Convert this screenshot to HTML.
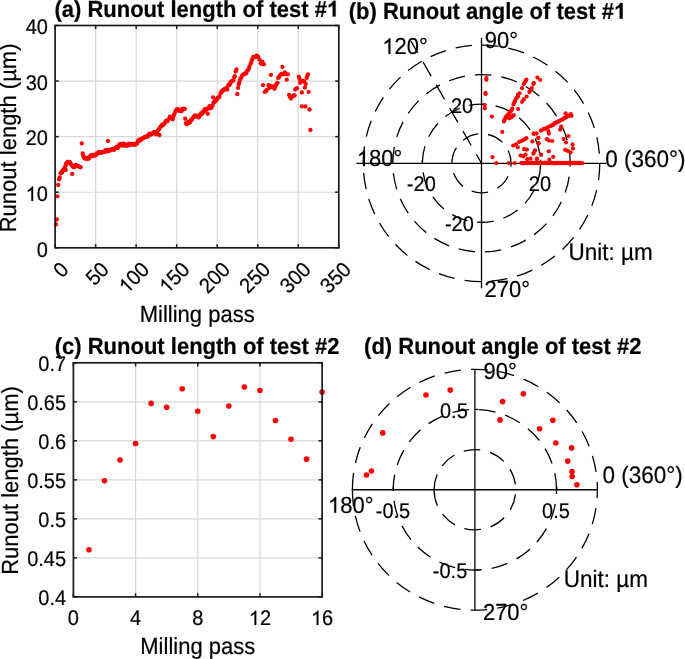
<!DOCTYPE html>
<html><head><meta charset="utf-8"><style>
html,body{margin:0;padding:0;background:#fff;}
svg{display:block;will-change:transform;}
text{font-family:"Liberation Sans", sans-serif; stroke:#000; stroke-width:0.2px; paint-order:stroke; text-rendering:geometricPrecision;}
</style></head><body>
<svg width="685" height="659" viewBox="0 0 685 659">
<rect width="685" height="659" fill="#fff"/>
<line x1="95.63" y1="25.5" x2="95.63" y2="247.8" stroke="#d8d8d8" stroke-width="1.2" />
<line x1="136.16" y1="25.5" x2="136.16" y2="247.8" stroke="#d8d8d8" stroke-width="1.2" />
<line x1="176.69" y1="25.5" x2="176.69" y2="247.8" stroke="#d8d8d8" stroke-width="1.2" />
<line x1="217.21" y1="25.5" x2="217.21" y2="247.8" stroke="#d8d8d8" stroke-width="1.2" />
<line x1="257.74" y1="25.5" x2="257.74" y2="247.8" stroke="#d8d8d8" stroke-width="1.2" />
<line x1="298.27" y1="25.5" x2="298.27" y2="247.8" stroke="#d8d8d8" stroke-width="1.2" />
<line x1="55.1" y1="192.23" x2="338.8" y2="192.23" stroke="#d8d8d8" stroke-width="1.2" />
<line x1="55.1" y1="136.65" x2="338.8" y2="136.65" stroke="#d8d8d8" stroke-width="1.2" />
<line x1="55.1" y1="81.08" x2="338.8" y2="81.08" stroke="#d8d8d8" stroke-width="1.2" />
<g fill="#ff0000"><circle cx="57.43" cy="196.28" r="2.15"/><circle cx="58.16" cy="184.99" r="2.15"/><circle cx="59.11" cy="179.44" r="2.15"/><circle cx="59.72" cy="177.51" r="2.15"/><circle cx="60.71" cy="173.32" r="2.15"/><circle cx="61.38" cy="172.26" r="2.15"/><circle cx="62.17" cy="172.49" r="2.15"/><circle cx="62.75" cy="170.42" r="2.15"/><circle cx="63.65" cy="169.94" r="2.15"/><circle cx="64.33" cy="168.23" r="2.15"/><circle cx="65.19" cy="166.76" r="2.15"/><circle cx="65.79" cy="165.35" r="2.15"/><circle cx="66.16" cy="163.44" r="2.15"/><circle cx="66.92" cy="163.23" r="2.15"/><circle cx="67.57" cy="161.9" r="2.15"/><circle cx="68.76" cy="162" r="2.15"/><circle cx="69.72" cy="161.98" r="2.15"/><circle cx="70.22" cy="163.2" r="2.15"/><circle cx="71.17" cy="164.51" r="2.15"/><circle cx="71.73" cy="165.35" r="2.15"/><circle cx="72.48" cy="165.66" r="2.15"/><circle cx="73.27" cy="166.79" r="2.15"/><circle cx="73.7" cy="167.29" r="2.15"/><circle cx="74.51" cy="167.02" r="2.15"/><circle cx="75.29" cy="165.68" r="2.15"/><circle cx="76.09" cy="164.84" r="2.15"/><circle cx="76.87" cy="165.91" r="2.15"/><circle cx="77.76" cy="165.89" r="2.15"/><circle cx="78.65" cy="166.57" r="2.15"/><circle cx="79.87" cy="166.92" r="2.15"/><circle cx="80.7" cy="167.3" r="2.15"/><circle cx="82.75" cy="153.49" r="2.15"/><circle cx="83.33" cy="155.86" r="2.15"/><circle cx="83.93" cy="157.3" r="2.15"/><circle cx="84.77" cy="158.51" r="2.15"/><circle cx="85.36" cy="158.03" r="2.15"/><circle cx="85.92" cy="158.24" r="2.15"/><circle cx="87.06" cy="159.05" r="2.15"/><circle cx="88.03" cy="157.66" r="2.15"/><circle cx="88.75" cy="158.67" r="2.15"/><circle cx="89.48" cy="157.35" r="2.15"/><circle cx="90.4" cy="155.72" r="2.15"/><circle cx="91.22" cy="156.29" r="2.15"/><circle cx="92.13" cy="154.92" r="2.15"/><circle cx="93.11" cy="156.07" r="2.15"/><circle cx="93.86" cy="154.91" r="2.15"/><circle cx="94.92" cy="155.64" r="2.15"/><circle cx="95.89" cy="155" r="2.15"/><circle cx="96.54" cy="153.41" r="2.15"/><circle cx="97.44" cy="153.85" r="2.15"/><circle cx="98.56" cy="152.23" r="2.15"/><circle cx="99.12" cy="152.41" r="2.15"/><circle cx="100.02" cy="152.97" r="2.15"/><circle cx="101.04" cy="152.48" r="2.15"/><circle cx="101.68" cy="152.4" r="2.15"/><circle cx="102.7" cy="152.3" r="2.15"/><circle cx="103.81" cy="152.14" r="2.15"/><circle cx="104.51" cy="151.56" r="2.15"/><circle cx="105.45" cy="150.09" r="2.15"/><circle cx="106.41" cy="151.47" r="2.15"/><circle cx="107.27" cy="151.28" r="2.15"/><circle cx="107.96" cy="150.18" r="2.15"/><circle cx="108.74" cy="151.15" r="2.15"/><circle cx="109.62" cy="150.35" r="2.15"/><circle cx="110.56" cy="150.11" r="2.15"/><circle cx="111.49" cy="149.42" r="2.15"/><circle cx="112.23" cy="149.18" r="2.15"/><circle cx="113.14" cy="149.2" r="2.15"/><circle cx="113.99" cy="149.9" r="2.15"/><circle cx="115.1" cy="147.88" r="2.15"/><circle cx="115.83" cy="147.89" r="2.15"/><circle cx="116.75" cy="146.97" r="2.15"/><circle cx="117.81" cy="148.11" r="2.15"/><circle cx="118.54" cy="146.21" r="2.15"/><circle cx="119.26" cy="144.6" r="2.15"/><circle cx="120.24" cy="144.18" r="2.15"/><circle cx="121.31" cy="143.96" r="2.15"/><circle cx="121.86" cy="145.69" r="2.15"/><circle cx="122.94" cy="143.92" r="2.15"/><circle cx="123.82" cy="143.66" r="2.15"/><circle cx="124.69" cy="145.85" r="2.15"/><circle cx="125.7" cy="145.33" r="2.15"/><circle cx="126.33" cy="144.71" r="2.15"/><circle cx="127.17" cy="145.7" r="2.15"/><circle cx="128.19" cy="145.29" r="2.15"/><circle cx="128.98" cy="143.64" r="2.15"/><circle cx="130.05" cy="144.89" r="2.15"/><circle cx="130.94" cy="144.07" r="2.15"/><circle cx="131.8" cy="144.4" r="2.15"/><circle cx="132.44" cy="144.39" r="2.15"/><circle cx="133.37" cy="143.79" r="2.15"/><circle cx="134.11" cy="144.81" r="2.15"/><circle cx="135.08" cy="144.8" r="2.15"/><circle cx="136.23" cy="143.33" r="2.15"/><circle cx="137.1" cy="143.6" r="2.15"/><circle cx="137.98" cy="141.3" r="2.15"/><circle cx="138.49" cy="140.35" r="2.15"/><circle cx="139.28" cy="139.65" r="2.15"/><circle cx="140.33" cy="140.56" r="2.15"/><circle cx="141.3" cy="139.01" r="2.15"/><circle cx="142.1" cy="139.1" r="2.15"/><circle cx="142.75" cy="138.17" r="2.15"/><circle cx="143.96" cy="137.82" r="2.15"/><circle cx="144.76" cy="136.81" r="2.15"/><circle cx="145.39" cy="137.16" r="2.15"/><circle cx="146.31" cy="136.84" r="2.15"/><circle cx="147.43" cy="135.61" r="2.15"/><circle cx="148.06" cy="136.48" r="2.15"/><circle cx="149.07" cy="134.23" r="2.15"/><circle cx="149.71" cy="133.65" r="2.15"/><circle cx="150.9" cy="134.55" r="2.15"/><circle cx="151.48" cy="134.06" r="2.15"/><circle cx="152.69" cy="133.15" r="2.15"/><circle cx="153.32" cy="133.03" r="2.15"/><circle cx="154.1" cy="131.98" r="2.15"/><circle cx="155.31" cy="133.5" r="2.15"/><circle cx="156.01" cy="134.25" r="2.15"/><circle cx="156.84" cy="133.08" r="2.15"/><circle cx="157.86" cy="130.6" r="2.15"/><circle cx="158.5" cy="129.74" r="2.15"/><circle cx="159.4" cy="128.79" r="2.15"/><circle cx="160.3" cy="126.82" r="2.15"/><circle cx="161.15" cy="126.3" r="2.15"/><circle cx="162.12" cy="124.66" r="2.15"/><circle cx="163.08" cy="124.99" r="2.15"/><circle cx="163.89" cy="124.37" r="2.15"/><circle cx="164.8" cy="122.87" r="2.15"/><circle cx="165.68" cy="121.07" r="2.15"/><circle cx="166.53" cy="120.75" r="2.15"/><circle cx="167.23" cy="121.43" r="2.15"/><circle cx="168.17" cy="120.04" r="2.15"/><circle cx="169.24" cy="118.47" r="2.15"/><circle cx="169.93" cy="116.64" r="2.15"/><circle cx="170.92" cy="117.79" r="2.15"/><circle cx="171.64" cy="117.87" r="2.15"/><circle cx="172.6" cy="117.81" r="2.15"/><circle cx="173.66" cy="115.72" r="2.15"/><circle cx="174.42" cy="113.67" r="2.15"/><circle cx="175.43" cy="111.54" r="2.15"/><circle cx="176.18" cy="110.25" r="2.15"/><circle cx="177" cy="109.22" r="2.15"/><circle cx="177.86" cy="109.3" r="2.15"/><circle cx="178.74" cy="110.62" r="2.15"/><circle cx="179.7" cy="110.9" r="2.15"/><circle cx="180.68" cy="109.97" r="2.15"/><circle cx="181.4" cy="111.14" r="2.15"/><circle cx="182.4" cy="109.02" r="2.15"/><circle cx="182.99" cy="109.35" r="2.15"/><circle cx="183.85" cy="108.57" r="2.15"/><circle cx="184.9" cy="108.8" r="2.15"/><circle cx="185.23" cy="118.74" r="2.15"/><circle cx="186.71" cy="124.29" r="2.15"/><circle cx="187.36" cy="123.4" r="2.15"/><circle cx="188.46" cy="121.72" r="2.15"/><circle cx="189.45" cy="122.84" r="2.15"/><circle cx="189.99" cy="121.96" r="2.15"/><circle cx="190.86" cy="120.17" r="2.15"/><circle cx="191.9" cy="120.08" r="2.15"/><circle cx="192.36" cy="118.5" r="2.15"/><circle cx="193.31" cy="117.54" r="2.15"/><circle cx="193.98" cy="116.72" r="2.15"/><circle cx="194.99" cy="115.34" r="2.15"/><circle cx="195.7" cy="116.18" r="2.15"/><circle cx="196.27" cy="115.96" r="2.15"/><circle cx="197.29" cy="116.32" r="2.15"/><circle cx="197.85" cy="117.27" r="2.15"/><circle cx="198.92" cy="117.24" r="2.15"/><circle cx="199.39" cy="115.08" r="2.15"/><circle cx="200.12" cy="115.36" r="2.15"/><circle cx="200.96" cy="113.31" r="2.15"/><circle cx="201.77" cy="114.12" r="2.15"/><circle cx="202.65" cy="112.07" r="2.15"/><circle cx="203.11" cy="112.64" r="2.15"/><circle cx="204" cy="111.45" r="2.15"/><circle cx="204.54" cy="109.42" r="2.15"/><circle cx="205.61" cy="109.5" r="2.15"/><circle cx="206.2" cy="109.88" r="2.15"/><circle cx="207.25" cy="108.95" r="2.15"/><circle cx="207.87" cy="108.41" r="2.15"/><circle cx="208.69" cy="107.78" r="2.15"/><circle cx="209.68" cy="106.08" r="2.15"/><circle cx="210.67" cy="108.25" r="2.15"/><circle cx="211.51" cy="107.66" r="2.15"/><circle cx="212.61" cy="105.38" r="2.15"/><circle cx="213.44" cy="102.72" r="2.15"/><circle cx="214.17" cy="102.08" r="2.15"/><circle cx="215.02" cy="101.56" r="2.15"/><circle cx="215.95" cy="100.8" r="2.15"/><circle cx="216.6" cy="99.86" r="2.15"/><circle cx="217.26" cy="98.54" r="2.15"/><circle cx="217.95" cy="97.53" r="2.15"/><circle cx="218.87" cy="97.6" r="2.15"/><circle cx="219.38" cy="96.45" r="2.15"/><circle cx="220.67" cy="93.26" r="2.15"/><circle cx="221.63" cy="91.46" r="2.15"/><circle cx="222.25" cy="91.52" r="2.15"/><circle cx="222.96" cy="90.11" r="2.15"/><circle cx="223.83" cy="90.31" r="2.15"/><circle cx="224.44" cy="89.26" r="2.15"/><circle cx="225.31" cy="88.97" r="2.15"/><circle cx="225.91" cy="88.5" r="2.15"/><circle cx="226.5" cy="88.16" r="2.15"/><circle cx="227.23" cy="89.48" r="2.15"/><circle cx="228.3" cy="85.03" r="2.15"/><circle cx="228.98" cy="85.38" r="2.15"/><circle cx="230.05" cy="84.04" r="2.15"/><circle cx="230.56" cy="82.18" r="2.15"/><circle cx="231.32" cy="81.62" r="2.15"/><circle cx="232.26" cy="80.59" r="2.15"/><circle cx="233.31" cy="80.62" r="2.15"/><circle cx="234.29" cy="77.59" r="2.15"/><circle cx="234.7" cy="76.23" r="2.15"/><circle cx="235.72" cy="71.51" r="2.15"/><circle cx="236.5" cy="69.4" r="2.15"/><circle cx="238.1" cy="87.93" r="2.15"/><circle cx="238.79" cy="84.2" r="2.15"/><circle cx="239.43" cy="81.96" r="2.15"/><circle cx="240.1" cy="79.37" r="2.15"/><circle cx="241.09" cy="77.86" r="2.15"/><circle cx="242.02" cy="75.63" r="2.15"/><circle cx="243.12" cy="74.68" r="2.15"/><circle cx="244.23" cy="73.84" r="2.15"/><circle cx="245.25" cy="73.52" r="2.15"/><circle cx="246.19" cy="73.33" r="2.15"/><circle cx="246.89" cy="71.32" r="2.15"/><circle cx="247.96" cy="69.84" r="2.15"/><circle cx="248.69" cy="69.3" r="2.15"/><circle cx="249.32" cy="66.87" r="2.15"/><circle cx="250.56" cy="63.88" r="2.15"/><circle cx="251.39" cy="61.99" r="2.15"/><circle cx="252.06" cy="59.43" r="2.15"/><circle cx="253.4" cy="56.87" r="2.15"/><circle cx="254.34" cy="56.86" r="2.15"/><circle cx="255.07" cy="56.95" r="2.15"/><circle cx="255.92" cy="56.67" r="2.15"/><circle cx="256.56" cy="55.74" r="2.15"/><circle cx="257.34" cy="56.2" r="2.15"/><circle cx="258.14" cy="56.87" r="2.15"/><circle cx="259.52" cy="59.58" r="2.15"/><circle cx="260.75" cy="63.35" r="2.15"/><circle cx="261.6" cy="61.8" r="2.15"/><circle cx="262.5" cy="61.9" r="2.15"/><circle cx="263" cy="85.2" r="2.15"/><circle cx="264.9" cy="91.9" r="2.15"/><circle cx="266.7" cy="90.1" r="2.15"/><circle cx="268.5" cy="85.2" r="2.15"/><circle cx="270.3" cy="85.8" r="2.15"/><circle cx="270.9" cy="74.9" r="2.15"/><circle cx="272.1" cy="87" r="2.15"/><circle cx="274.6" cy="88.8" r="2.15"/><circle cx="275.8" cy="85.8" r="2.15"/><circle cx="277.6" cy="82.8" r="2.15"/><circle cx="278.2" cy="77.9" r="2.15"/><circle cx="280" cy="75.5" r="2.15"/><circle cx="282.5" cy="67" r="2.15"/><circle cx="283.1" cy="74.3" r="2.15"/><circle cx="284.9" cy="72.5" r="2.15"/><circle cx="286.7" cy="79.7" r="2.15"/><circle cx="287.9" cy="74.3" r="2.15"/><circle cx="289.1" cy="94.9" r="2.15"/><circle cx="291" cy="98.6" r="2.15"/><circle cx="292.8" cy="96.1" r="2.15"/><circle cx="294.6" cy="95.5" r="2.15"/><circle cx="295.2" cy="89.5" r="2.15"/><circle cx="297" cy="88.2" r="2.15"/><circle cx="298.8" cy="76.7" r="2.15"/><circle cx="300.1" cy="82.8" r="2.15"/><circle cx="301.9" cy="92.5" r="2.15"/><circle cx="302.5" cy="81" r="2.15"/><circle cx="304.3" cy="81.6" r="2.15"/><circle cx="304.9" cy="87.6" r="2.15"/><circle cx="306.7" cy="77.9" r="2.15"/><circle cx="308" cy="74.3" r="2.15"/><circle cx="308.6" cy="91.9" r="2.15"/><circle cx="301.9" cy="106.4" r="2.15"/><circle cx="305.5" cy="106.4" r="2.15"/><circle cx="309.5" cy="109.5" r="2.15"/><circle cx="310.4" cy="130" r="2.15"/><circle cx="264" cy="64.3" r="2.15"/><circle cx="261.8" cy="64" r="2.15"/><circle cx="266" cy="91" r="2.15"/><circle cx="269" cy="88" r="2.15"/><circle cx="273" cy="86.5" r="2.15"/><circle cx="276.5" cy="84" r="2.15"/><circle cx="279" cy="77" r="2.15"/><circle cx="281.5" cy="74" r="2.15"/><circle cx="285.5" cy="74" r="2.15"/><circle cx="290" cy="97" r="2.15"/><circle cx="293.5" cy="95.5" r="2.15"/><circle cx="296" cy="88.8" r="2.15"/><circle cx="299.5" cy="79" r="2.15"/><circle cx="303.5" cy="81.3" r="2.15"/><circle cx="305.7" cy="84" r="2.15"/><circle cx="307.3" cy="76" r="2.15"/><circle cx="56.8" cy="219.5" r="2.15"/><circle cx="56.1" cy="224.4" r="2.15"/><circle cx="72.2" cy="173.9" r="2.15"/><circle cx="81.8" cy="143.4" r="2.15"/><circle cx="65.7" cy="170" r="2.15"/><circle cx="107.9" cy="141" r="2.15"/><circle cx="172.7" cy="119.3" r="2.15"/><circle cx="159.5" cy="135" r="2.15"/><circle cx="213.1" cy="97.5" r="2.15"/><circle cx="207.7" cy="113.8" r="2.15"/><circle cx="237.3" cy="94" r="2.15"/><circle cx="186" cy="123.2" r="2.15"/></g>
<rect x="55.1" y="25.5" width="283.7" height="222.3" fill="none" stroke="#1a1a1a" stroke-width="1.7"/>
<line x1="55.1" y1="247.8" x2="55.1" y2="244.2" stroke="#1a1a1a" stroke-width="1.5" />
<line x1="55.1" y1="25.5" x2="55.1" y2="29.1" stroke="#1a1a1a" stroke-width="1.5" />
<line x1="95.63" y1="247.8" x2="95.63" y2="244.2" stroke="#1a1a1a" stroke-width="1.5" />
<line x1="95.63" y1="25.5" x2="95.63" y2="29.1" stroke="#1a1a1a" stroke-width="1.5" />
<line x1="136.16" y1="247.8" x2="136.16" y2="244.2" stroke="#1a1a1a" stroke-width="1.5" />
<line x1="136.16" y1="25.5" x2="136.16" y2="29.1" stroke="#1a1a1a" stroke-width="1.5" />
<line x1="176.69" y1="247.8" x2="176.69" y2="244.2" stroke="#1a1a1a" stroke-width="1.5" />
<line x1="176.69" y1="25.5" x2="176.69" y2="29.1" stroke="#1a1a1a" stroke-width="1.5" />
<line x1="217.21" y1="247.8" x2="217.21" y2="244.2" stroke="#1a1a1a" stroke-width="1.5" />
<line x1="217.21" y1="25.5" x2="217.21" y2="29.1" stroke="#1a1a1a" stroke-width="1.5" />
<line x1="257.74" y1="247.8" x2="257.74" y2="244.2" stroke="#1a1a1a" stroke-width="1.5" />
<line x1="257.74" y1="25.5" x2="257.74" y2="29.1" stroke="#1a1a1a" stroke-width="1.5" />
<line x1="298.27" y1="247.8" x2="298.27" y2="244.2" stroke="#1a1a1a" stroke-width="1.5" />
<line x1="298.27" y1="25.5" x2="298.27" y2="29.1" stroke="#1a1a1a" stroke-width="1.5" />
<line x1="338.8" y1="247.8" x2="338.8" y2="244.2" stroke="#1a1a1a" stroke-width="1.5" />
<line x1="338.8" y1="25.5" x2="338.8" y2="29.1" stroke="#1a1a1a" stroke-width="1.5" />
<line x1="55.1" y1="247.8" x2="58.7" y2="247.8" stroke="#1a1a1a" stroke-width="1.5" />
<line x1="338.8" y1="247.8" x2="335.2" y2="247.8" stroke="#1a1a1a" stroke-width="1.5" />
<line x1="55.1" y1="192.23" x2="58.7" y2="192.23" stroke="#1a1a1a" stroke-width="1.5" />
<line x1="338.8" y1="192.23" x2="335.2" y2="192.23" stroke="#1a1a1a" stroke-width="1.5" />
<line x1="55.1" y1="136.65" x2="58.7" y2="136.65" stroke="#1a1a1a" stroke-width="1.5" />
<line x1="338.8" y1="136.65" x2="335.2" y2="136.65" stroke="#1a1a1a" stroke-width="1.5" />
<line x1="55.1" y1="81.08" x2="58.7" y2="81.08" stroke="#1a1a1a" stroke-width="1.5" />
<line x1="338.8" y1="81.08" x2="335.2" y2="81.08" stroke="#1a1a1a" stroke-width="1.5" />
<line x1="55.1" y1="25.5" x2="58.7" y2="25.5" stroke="#1a1a1a" stroke-width="1.5" />
<line x1="338.8" y1="25.5" x2="335.2" y2="25.5" stroke="#1a1a1a" stroke-width="1.5" />
<g font-family='"Liberation Sans", sans-serif' fill="#000">
<g class="T"><g transform="translate(47.9,256.5) scale(1,1.06) translate(-47.9,-256.5)"><text x="47.9" y="256.5" font-size="20" text-anchor="end" font-weight="normal" >0</text></g></g>
<g class="T"><g transform="translate(47.9,200.93) scale(1,1.06) translate(-47.9,-200.93)"><text x="47.9" y="200.93" font-size="20" text-anchor="end" font-weight="normal" > 0</text><path d="M763,0L583,0L583,1147Q518,1085 412,1023Q307,961 223,930L223,1104Q374,1175 484,1273Q595,1372 648,1466L763,1466Z" transform="translate(25.65,200.93) scale(0.009766,-0.009213)" fill="#000" stroke="#000" stroke-width="20.5" class="g1"/></g></g>
<g class="T"><g transform="translate(47.9,145.35) scale(1,1.06) translate(-47.9,-145.35)"><text x="47.9" y="145.35" font-size="20" text-anchor="end" font-weight="normal" >20</text></g></g>
<g class="T"><g transform="translate(47.9,89.78) scale(1,1.06) translate(-47.9,-89.78)"><text x="47.9" y="89.78" font-size="20" text-anchor="end" font-weight="normal" >30</text></g></g>
<g class="T"><g transform="translate(47.9,34.2) scale(1,1.06) translate(-47.9,-34.2)"><text x="47.9" y="34.2" font-size="20" text-anchor="end" font-weight="normal" >40</text></g></g>
<g class="T" transform="translate(64.9,265.9) rotate(-45)"><g transform="translate(0,7) scale(1,1.06) translate(0,-7)"><text x="0" y="7" font-size="20" text-anchor="end" font-weight="normal" >0</text></g></g>
<g class="T" transform="translate(105.26,265.9) rotate(-45)"><g transform="translate(0,7) scale(1,1.06) translate(0,-7)"><text x="0" y="7" font-size="20" text-anchor="end" font-weight="normal" >50</text></g></g>
<g class="T" transform="translate(145.63,265.9) rotate(-45)"><g transform="translate(0,7) scale(1,1.06) translate(0,-7)"><text x="0" y="7" font-size="20" text-anchor="end" font-weight="normal" > 00</text><path d="M763,0L583,0L583,1147Q518,1085 412,1023Q307,961 223,930L223,1104Q374,1175 484,1273Q595,1372 648,1466L763,1466Z" transform="translate(-33.37,7) scale(0.009766,-0.009213)" fill="#000" stroke="#000" stroke-width="20.5" class="g1"/></g></g>
<g class="T" transform="translate(185.99,265.9) rotate(-45)"><g transform="translate(0,7) scale(1,1.06) translate(0,-7)"><text x="0" y="7" font-size="20" text-anchor="end" font-weight="normal" > 50</text><path d="M763,0L583,0L583,1147Q518,1085 412,1023Q307,961 223,930L223,1104Q374,1175 484,1273Q595,1372 648,1466L763,1466Z" transform="translate(-33.37,7) scale(0.009766,-0.009213)" fill="#000" stroke="#000" stroke-width="20.5" class="g1"/></g></g>
<g class="T" transform="translate(226.35,265.9) rotate(-45)"><g transform="translate(0,7) scale(1,1.06) translate(0,-7)"><text x="0" y="7" font-size="20" text-anchor="end" font-weight="normal" >200</text></g></g>
<g class="T" transform="translate(266.72,265.9) rotate(-45)"><g transform="translate(0,7) scale(1,1.06) translate(0,-7)"><text x="0" y="7" font-size="20" text-anchor="end" font-weight="normal" >250</text></g></g>
<g class="T" transform="translate(307.08,265.9) rotate(-45)"><g transform="translate(0,7) scale(1,1.06) translate(0,-7)"><text x="0" y="7" font-size="20" text-anchor="end" font-weight="normal" >300</text></g></g>
<g class="T" transform="translate(347.45,265.9) rotate(-45)"><g transform="translate(0,7) scale(1,1.06) translate(0,-7)"><text x="0" y="7" font-size="20" text-anchor="end" font-weight="normal" >350</text></g></g>
<g class="T"><g transform="translate(197.2,322.2) scale(1,1.06) translate(-197.2,-322.2)"><text x="197.2" y="322.2" font-size="22" text-anchor="middle" font-weight="normal" >Milling pass</text></g></g>
<g class="T" transform="translate(16.2,137.9) rotate(-90)"><g transform="translate(0,0) scale(1,1.06) translate(0,0)"><text x="0" y="0" font-size="22" text-anchor="middle" font-weight="normal" >Runout length (µm)</text></g></g>
<g class="T"><g transform="translate(196.8,16.5) scale(1,1.06) translate(-196.8,-16.5)"><text x="196.8" y="16.5" font-size="22" text-anchor="middle" font-weight="bold" >(a) Runout length of test # </text><path d="M809,0L528,0L528,1056Q374,912 165,844L165,1098Q275,1134 404,1234Q533,1334 581,1466L809,1466Z" transform="translate(326.95,16.5) scale(0.010742,-0.010134)" fill="#000" stroke="#000" stroke-width="18.6" class="g1"/></g></g>
</g>
<line x1="135.58" y1="362.8" x2="135.58" y2="596.9" stroke="#d8d8d8" stroke-width="1.2" />
<line x1="197.75" y1="362.8" x2="197.75" y2="596.9" stroke="#d8d8d8" stroke-width="1.2" />
<line x1="259.93" y1="362.8" x2="259.93" y2="596.9" stroke="#d8d8d8" stroke-width="1.2" />
<line x1="73.4" y1="557.88" x2="322.1" y2="557.88" stroke="#d8d8d8" stroke-width="1.2" />
<line x1="73.4" y1="518.87" x2="322.1" y2="518.87" stroke="#d8d8d8" stroke-width="1.2" />
<line x1="73.4" y1="479.85" x2="322.1" y2="479.85" stroke="#d8d8d8" stroke-width="1.2" />
<line x1="73.4" y1="440.83" x2="322.1" y2="440.83" stroke="#d8d8d8" stroke-width="1.2" />
<line x1="73.4" y1="401.82" x2="322.1" y2="401.82" stroke="#d8d8d8" stroke-width="1.2" />
<g fill="#ff0000"><circle cx="88.94" cy="549.69" r="2.8"/><circle cx="104.49" cy="480.86" r="2.8"/><circle cx="120.03" cy="459.95" r="2.8"/><circle cx="135.58" cy="443.56" r="2.8"/><circle cx="151.12" cy="403.38" r="2.8"/><circle cx="166.66" cy="407.28" r="2.8"/><circle cx="182.21" cy="388.71" r="2.8"/><circle cx="197.75" cy="411.18" r="2.8"/><circle cx="213.29" cy="436.62" r="2.8"/><circle cx="228.84" cy="406.11" r="2.8"/><circle cx="244.38" cy="386.99" r="2.8"/><circle cx="259.93" cy="390.5" r="2.8"/><circle cx="275.47" cy="420.54" r="2.8"/><circle cx="291.01" cy="439.27" r="2.8"/><circle cx="306.56" cy="459.17" r="2.8"/><circle cx="322.1" cy="392.06" r="2.8"/></g>
<rect x="73.4" y="362.8" width="248.7" height="234.1" fill="none" stroke="#1a1a1a" stroke-width="1.7"/>
<line x1="73.4" y1="596.9" x2="73.4" y2="593.3" stroke="#1a1a1a" stroke-width="1.5" />
<line x1="73.4" y1="362.8" x2="73.4" y2="366.4" stroke="#1a1a1a" stroke-width="1.5" />
<line x1="135.58" y1="596.9" x2="135.58" y2="593.3" stroke="#1a1a1a" stroke-width="1.5" />
<line x1="135.58" y1="362.8" x2="135.58" y2="366.4" stroke="#1a1a1a" stroke-width="1.5" />
<line x1="197.75" y1="596.9" x2="197.75" y2="593.3" stroke="#1a1a1a" stroke-width="1.5" />
<line x1="197.75" y1="362.8" x2="197.75" y2="366.4" stroke="#1a1a1a" stroke-width="1.5" />
<line x1="259.93" y1="596.9" x2="259.93" y2="593.3" stroke="#1a1a1a" stroke-width="1.5" />
<line x1="259.93" y1="362.8" x2="259.93" y2="366.4" stroke="#1a1a1a" stroke-width="1.5" />
<line x1="322.1" y1="596.9" x2="322.1" y2="593.3" stroke="#1a1a1a" stroke-width="1.5" />
<line x1="322.1" y1="362.8" x2="322.1" y2="366.4" stroke="#1a1a1a" stroke-width="1.5" />
<line x1="73.4" y1="596.9" x2="77" y2="596.9" stroke="#1a1a1a" stroke-width="1.5" />
<line x1="322.1" y1="596.9" x2="318.5" y2="596.9" stroke="#1a1a1a" stroke-width="1.5" />
<line x1="73.4" y1="557.88" x2="77" y2="557.88" stroke="#1a1a1a" stroke-width="1.5" />
<line x1="322.1" y1="557.88" x2="318.5" y2="557.88" stroke="#1a1a1a" stroke-width="1.5" />
<line x1="73.4" y1="518.87" x2="77" y2="518.87" stroke="#1a1a1a" stroke-width="1.5" />
<line x1="322.1" y1="518.87" x2="318.5" y2="518.87" stroke="#1a1a1a" stroke-width="1.5" />
<line x1="73.4" y1="479.85" x2="77" y2="479.85" stroke="#1a1a1a" stroke-width="1.5" />
<line x1="322.1" y1="479.85" x2="318.5" y2="479.85" stroke="#1a1a1a" stroke-width="1.5" />
<line x1="73.4" y1="440.83" x2="77" y2="440.83" stroke="#1a1a1a" stroke-width="1.5" />
<line x1="322.1" y1="440.83" x2="318.5" y2="440.83" stroke="#1a1a1a" stroke-width="1.5" />
<line x1="73.4" y1="401.82" x2="77" y2="401.82" stroke="#1a1a1a" stroke-width="1.5" />
<line x1="322.1" y1="401.82" x2="318.5" y2="401.82" stroke="#1a1a1a" stroke-width="1.5" />
<line x1="73.4" y1="362.8" x2="77" y2="362.8" stroke="#1a1a1a" stroke-width="1.5" />
<line x1="322.1" y1="362.8" x2="318.5" y2="362.8" stroke="#1a1a1a" stroke-width="1.5" />
<g font-family='"Liberation Sans", sans-serif' fill="#000">
<g class="T"><g transform="translate(66.1,605.2) scale(1,1.06) translate(-66.1,-605.2)"><text x="66.1" y="605.2" font-size="20" text-anchor="end" font-weight="normal" >0.4</text></g></g>
<g class="T"><g transform="translate(66.1,566.18) scale(1,1.06) translate(-66.1,-566.18)"><text x="66.1" y="566.18" font-size="20" text-anchor="end" font-weight="normal" >0.45</text></g></g>
<g class="T"><g transform="translate(66.1,527.17) scale(1,1.06) translate(-66.1,-527.17)"><text x="66.1" y="527.17" font-size="20" text-anchor="end" font-weight="normal" >0.5</text></g></g>
<g class="T"><g transform="translate(66.1,488.15) scale(1,1.06) translate(-66.1,-488.15)"><text x="66.1" y="488.15" font-size="20" text-anchor="end" font-weight="normal" >0.55</text></g></g>
<g class="T"><g transform="translate(66.1,449.13) scale(1,1.06) translate(-66.1,-449.13)"><text x="66.1" y="449.13" font-size="20" text-anchor="end" font-weight="normal" >0.6</text></g></g>
<g class="T"><g transform="translate(66.1,410.12) scale(1,1.06) translate(-66.1,-410.12)"><text x="66.1" y="410.12" font-size="20" text-anchor="end" font-weight="normal" >0.65</text></g></g>
<g class="T"><g transform="translate(66.1,371.1) scale(1,1.06) translate(-66.1,-371.1)"><text x="66.1" y="371.1" font-size="20" text-anchor="end" font-weight="normal" >0.7</text></g></g>
<g class="T"><g transform="translate(73.4,625) scale(1,1.06) translate(-73.4,-625)"><text x="73.4" y="625" font-size="20" text-anchor="middle" font-weight="normal" >0</text></g></g>
<g class="T"><g transform="translate(135.58,625) scale(1,1.06) translate(-135.58,-625)"><text x="135.58" y="625" font-size="20" text-anchor="middle" font-weight="normal" >4</text></g></g>
<g class="T"><g transform="translate(197.75,625) scale(1,1.06) translate(-197.75,-625)"><text x="197.75" y="625" font-size="20" text-anchor="middle" font-weight="normal" >8</text></g></g>
<g class="T"><g transform="translate(259.93,625) scale(1,1.06) translate(-259.93,-625)"><text x="259.93" y="625" font-size="20" text-anchor="middle" font-weight="normal" > 2</text><path d="M763,0L583,0L583,1147Q518,1085 412,1023Q307,961 223,930L223,1104Q374,1175 484,1273Q595,1372 648,1466L763,1466Z" transform="translate(248.8,625) scale(0.009766,-0.009213)" fill="#000" stroke="#000" stroke-width="20.5" class="g1"/></g></g>
<g class="T"><g transform="translate(322.1,625) scale(1,1.06) translate(-322.1,-625)"><text x="322.1" y="625" font-size="20" text-anchor="middle" font-weight="normal" > 6</text><path d="M763,0L583,0L583,1147Q518,1085 412,1023Q307,961 223,930L223,1104Q374,1175 484,1273Q595,1372 648,1466L763,1466Z" transform="translate(310.98,625) scale(0.009766,-0.009213)" fill="#000" stroke="#000" stroke-width="20.5" class="g1"/></g></g>
<g class="T"><g transform="translate(197.75,654.1) scale(1,1.06) translate(-197.75,-654.1)"><text x="197.75" y="654.1" font-size="22" text-anchor="middle" font-weight="normal" >Milling pass</text></g></g>
<g class="T" transform="translate(18.2,480.45) rotate(-90)"><g transform="translate(0,0) scale(1,1.06) translate(0,0)"><text x="0" y="0" font-size="22" text-anchor="middle" font-weight="normal" >Runout length (µm)</text></g></g>
<g class="T"><g transform="translate(197.1,354) scale(1,1.06) translate(-197.1,-354)"><text x="197.1" y="354" font-size="22" text-anchor="middle" font-weight="bold" >(c) Runout length of test #2</text></g></g>
</g>
<path d="M510.88,166.6A29.56,29.56 0 0 0 508.16,150.54M502.39,142.39A29.56,29.56 0 0 0 488.14,134.5M478.18,133.93A29.56,29.56 0 0 0 463.12,140.15M456.46,147.59A29.56,29.56 0 0 0 451.94,163.23M453.6,173.08A29.56,29.56 0 0 0 463.02,186.37M471.75,191.21A29.56,29.56 0 0 0 488.01,192.13M497.24,188.32A29.56,29.56 0 0 0 508.1,176.19" fill="none" stroke="#000" stroke-width="1.3"/>
<path d="M539.92,154.26A59.12,59.12 0 0 0 535.17,138.51M530.21,129.8A59.12,59.12 0 0 0 519.1,117.68M510.86,111.98A59.12,59.12 0 0 0 495.58,105.88M485.68,104.33A59.12,59.12 0 0 0 469.28,105.46M459.68,108.35A59.12,59.12 0 0 0 445.39,116.49M438,123.26A59.12,59.12 0 0 0 428.66,136.79M424.94,146.1A59.12,59.12 0 0 0 422.39,162.35M423.08,172.34A59.12,59.12 0 0 0 427.83,188.09M432.79,196.8A59.12,59.12 0 0 0 443.9,208.92M452.14,214.62A59.12,59.12 0 0 0 467.42,220.72M477.32,222.27A59.12,59.12 0 0 0 493.72,221.14M503.32,218.25A59.12,59.12 0 0 0 517.61,210.11M525,203.34A59.12,59.12 0 0 0 534.34,189.81M538.06,180.5A59.12,59.12 0 0 0 540.61,164.25" fill="none" stroke="#000" stroke-width="1.3"/>
<path d="M570.12,166.55A88.68,88.68 0 0 0 569.19,150.1M567.14,140.28A88.68,88.68 0 0 0 561.41,124.84M556.55,116.06A88.68,88.68 0 0 0 546.52,102.99M539.29,96.04A88.68,88.68 0 0 0 525.85,86.51M516.9,81.99A88.68,88.68 0 0 0 501.25,76.85M491.36,75.17A88.68,88.68 0 0 0 474.89,74.87M464.95,76.18A88.68,88.68 0 0 0 449.12,80.74M440,84.93A88.68,88.68 0 0 0 426.22,93.96M418.75,100.64A88.68,88.68 0 0 0 408.24,113.33M403.07,121.92A88.68,88.68 0 0 0 396.76,137.15M394.35,146.88A88.68,88.68 0 0 0 392.82,163.28M393.39,173.29A88.68,88.68 0 0 0 396.75,189.42M400.25,198.82A88.68,88.68 0 0 0 408.22,213.24M414.33,221.2A88.68,88.68 0 0 0 426.2,232.62M434.38,238.42A88.68,88.68 0 0 0 449.09,245.84M458.61,248.98A88.68,88.68 0 0 0 474.86,251.73M484.88,251.92A88.68,88.68 0 0 0 501.22,249.76M510.85,246.98A88.68,88.68 0 0 0 525.83,240.11M534.21,234.61A88.68,88.68 0 0 0 546.5,223.63M552.89,215.91A88.68,88.68 0 0 0 561.39,201.79M565.23,192.53A88.68,88.68 0 0 0 569.19,176.53" fill="none" stroke="#000" stroke-width="1.3"/>
<path d="M567.69,82.36A118.24,118.24 0 0 0 555.6,71.16M547.52,65.21A118.24,118.24 0 0 0 533.24,56.98M524.04,52.98A118.24,118.24 0 0 0 508.28,48.13M498.42,46.28A118.24,118.24 0 0 0 481.98,45.06M471.96,45.45A118.24,118.24 0 0 0 455.66,47.92M445.97,50.52A118.24,118.24 0 0 0 430.63,56.56M421.77,61.26A118.24,118.24 0 0 0 408.16,70.56M400.56,77.11A118.24,118.24 0 0 0 389.36,89.2M383.41,97.28A118.24,118.24 0 0 0 375.18,111.56M371.18,120.76A118.24,118.24 0 0 0 366.33,136.52M364.48,146.38A118.24,118.24 0 0 0 363.26,162.82M363.65,172.84A118.24,118.24 0 0 0 366.12,189.14M368.72,198.83A118.24,118.24 0 0 0 374.76,214.17M379.46,223.03A118.24,118.24 0 0 0 388.76,236.64M395.31,244.24A118.24,118.24 0 0 0 407.4,255.44M415.48,261.39A118.24,118.24 0 0 0 429.76,269.62M438.96,273.62A118.24,118.24 0 0 0 454.72,278.47M464.58,280.32A118.24,118.24 0 0 0 481.02,281.54M491.04,281.15A118.24,118.24 0 0 0 507.34,278.68M517.03,276.08A118.24,118.24 0 0 0 532.37,270.04M541.23,265.34A118.24,118.24 0 0 0 554.84,256.04M562.44,249.49A118.24,118.24 0 0 0 573.64,237.4M579.59,229.32A118.24,118.24 0 0 0 587.82,215.04M591.82,205.84A118.24,118.24 0 0 0 596.67,190.08M598.52,180.22A118.24,118.24 0 0 0 599.74,163.78M599.35,153.76A118.24,118.24 0 0 0 596.88,137.46M594.28,127.77A118.24,118.24 0 0 0 588.24,112.43M583.54,103.57A118.24,118.24 0 0 0 574.24,89.96" fill="none" stroke="#000" stroke-width="1.3"/>
<path d="M481.5,163.3L476.3,154.29M471.2,145.46L462.95,131.17M457.85,122.34L449.6,108.05M444.5,99.21L436.25,84.92M431.15,76.09L422.9,61.8M417.8,52.97L411,41.19" fill="none" stroke="#000" stroke-width="1.3"/>
<line x1="356.5" y1="163.3" x2="606.5" y2="163.3" stroke="#000" stroke-width="1.3" />
<line x1="481.5" y1="37.9" x2="481.5" y2="288.3" stroke="#000" stroke-width="1.3" />
<line x1="422.38" y1="163.3" x2="422.38" y2="159.8" stroke="#000" stroke-width="1.3" />
<line x1="481.5" y1="222.42" x2="485" y2="222.42" stroke="#000" stroke-width="1.3" />
<line x1="540.62" y1="163.3" x2="540.62" y2="159.8" stroke="#000" stroke-width="1.3" />
<line x1="481.5" y1="104.18" x2="485" y2="104.18" stroke="#000" stroke-width="1.3" />
<g fill="#ff0000"><circle cx="486.4" cy="78.1" r="2.1"/><circle cx="486.4" cy="79.7" r="2.1"/><circle cx="485.5" cy="92.9" r="2.1"/><circle cx="485.5" cy="94" r="2.1"/><circle cx="484.8" cy="105.1" r="2.1"/><circle cx="484.8" cy="108.3" r="2.1"/><circle cx="491.9" cy="116.6" r="2.1"/><circle cx="502.3" cy="131.9" r="2.1"/><circle cx="496.4" cy="163.1" r="2.1"/><circle cx="508.7" cy="163.1" r="2.1"/><circle cx="514.6" cy="163.1" r="2.1"/><circle cx="492.5" cy="157.1" r="2.1"/><circle cx="513.2" cy="145.5" r="2.1"/><circle cx="515.9" cy="144.4" r="2.1"/><circle cx="517.8" cy="147.3" r="2.1"/><circle cx="519.1" cy="141.9" r="2.1"/><circle cx="521.4" cy="141" r="2.1"/><circle cx="523.5" cy="140" r="2.1"/><circle cx="525" cy="139" r="2.1"/><circle cx="526.4" cy="138.2" r="2.1"/><circle cx="524.1" cy="149.2" r="2.1"/><circle cx="526.9" cy="149.6" r="2.1"/><circle cx="520.5" cy="155.5" r="2.1"/><circle cx="523.2" cy="156.4" r="2.1"/><circle cx="525.5" cy="154.6" r="2.1"/><circle cx="527.3" cy="159.2" r="2.1"/><circle cx="530.5" cy="158.7" r="2.1"/><circle cx="532.3" cy="141.4" r="2.1"/><circle cx="533.7" cy="133.7" r="2.1"/><circle cx="536.4" cy="133.5" r="2.1"/><circle cx="538.3" cy="137.8" r="2.1"/><circle cx="538.7" cy="143.2" r="2.1"/><circle cx="533.3" cy="153.7" r="2.1"/><circle cx="534.6" cy="151.4" r="2.1"/><circle cx="536.9" cy="159.2" r="2.1"/><circle cx="541" cy="154.6" r="2.1"/><circle cx="541" cy="130.5" r="2.1"/><circle cx="543.7" cy="129.1" r="2.1"/><circle cx="548.3" cy="131.1" r="2.1"/><circle cx="548.8" cy="133.6" r="2.1"/><circle cx="538.4" cy="138" r="2.1"/><circle cx="538.4" cy="143.4" r="2.1"/><circle cx="546.8" cy="139" r="2.1"/><circle cx="548.8" cy="140.5" r="2.1"/><circle cx="552.2" cy="141" r="2.1"/><circle cx="535" cy="150.3" r="2.1"/><circle cx="540.9" cy="154.8" r="2.1"/><circle cx="548.8" cy="151.3" r="2.1"/><circle cx="553.2" cy="156.8" r="2.1"/><circle cx="560.1" cy="129.6" r="2.1"/><circle cx="561.1" cy="126.7" r="2.1"/><circle cx="563.6" cy="139" r="2.1"/><circle cx="568.5" cy="136" r="2.1"/><circle cx="566" cy="142.5" r="2.1"/><circle cx="572.5" cy="144.4" r="2.1"/><circle cx="573" cy="148.4" r="2.1"/><circle cx="565.1" cy="149.8" r="2.1"/><circle cx="567.5" cy="150.8" r="2.1"/><circle cx="570.5" cy="152.3" r="2.1"/><circle cx="537" cy="158.7" r="2.1"/><circle cx="549.3" cy="159.7" r="2.1"/><circle cx="565.6" cy="113.4" r="2.1"/><circle cx="571.5" cy="115.8" r="2.1"/><circle cx="503.96" cy="121.4" r="2.1"/><circle cx="504.45" cy="119.93" r="2.1"/><circle cx="505.49" cy="118.16" r="2.1"/><circle cx="506.43" cy="117.17" r="2.1"/><circle cx="506.49" cy="115.98" r="2.1"/><circle cx="508.13" cy="114.7" r="2.1"/><circle cx="508.99" cy="114.41" r="2.1"/><circle cx="509.54" cy="112.49" r="2.1"/><circle cx="510.37" cy="111.64" r="2.1"/><circle cx="511.57" cy="110.35" r="2.1"/><circle cx="512.27" cy="108.49" r="2.1"/><circle cx="509.22" cy="118.3" r="2.1"/><circle cx="511.23" cy="117.31" r="2.1"/><circle cx="512.62" cy="116.04" r="2.1"/><circle cx="513.75" cy="115.22" r="2.1"/><circle cx="513.44" cy="104.35" r="2.1"/><circle cx="514.3" cy="102.42" r="2.1"/><circle cx="515.03" cy="100.94" r="2.1"/><circle cx="515.84" cy="99.05" r="2.1"/><circle cx="517.04" cy="97.5" r="2.1"/><circle cx="517.97" cy="96.48" r="2.1"/><circle cx="518.06" cy="94.48" r="2.1"/><circle cx="519.56" cy="93.27" r="2.1"/><circle cx="522.1" cy="88.1" r="2.1"/><circle cx="523.77" cy="83.96" r="2.1"/><circle cx="524.56" cy="82.87" r="2.1"/><circle cx="525.49" cy="81.15" r="2.1"/><circle cx="526.39" cy="79.61" r="2.1"/><circle cx="518.1" cy="109" r="2.1"/><circle cx="522.1" cy="101.8" r="2.1"/><circle cx="523.8" cy="99.4" r="2.1"/><circle cx="526.6" cy="96.5" r="2.1"/><circle cx="529.4" cy="92.1" r="2.1"/><circle cx="530.6" cy="90.1" r="2.1"/><circle cx="531.8" cy="88.1" r="2.1"/><circle cx="533.4" cy="84.1" r="2.1"/><circle cx="533.8" cy="82.9" r="2.1"/><circle cx="537.4" cy="77.6" r="2.1"/><circle cx="540.2" cy="80" r="2.1"/><circle cx="533.7" cy="133.7" r="2.1"/><circle cx="536.4" cy="133.5" r="2.1"/><circle cx="541" cy="130.5" r="2.1"/><circle cx="543.7" cy="129.1" r="2.1"/><circle cx="545.2" cy="128.6" r="2.1"/><circle cx="547.8" cy="127.2" r="2.1"/><circle cx="550.36" cy="126.01" r="2.1"/><circle cx="551.36" cy="125.68" r="2.1"/><circle cx="552.52" cy="125.21" r="2.1"/><circle cx="553.1" cy="124.74" r="2.1"/><circle cx="554.41" cy="123.41" r="2.1"/><circle cx="555.13" cy="123.16" r="2.1"/><circle cx="556.59" cy="122.38" r="2.1"/><circle cx="557.45" cy="121.79" r="2.1"/><circle cx="558.69" cy="121.56" r="2.1"/><circle cx="559.55" cy="120.86" r="2.1"/><circle cx="561.32" cy="119.73" r="2.1"/><circle cx="562.5" cy="119.58" r="2.1"/><circle cx="563.58" cy="118.62" r="2.1"/><circle cx="564.27" cy="118.07" r="2.1"/><circle cx="565.87" cy="117.6" r="2.1"/><circle cx="566.47" cy="116.85" r="2.1"/><circle cx="567.5" cy="115.92" r="2.1"/><circle cx="568.47" cy="115.92" r="2.1"/><circle cx="569.72" cy="115.37" r="2.1"/><circle cx="570.8" cy="114.21" r="2.1"/><circle cx="521.4" cy="162.84" r="2.1"/><circle cx="522.1" cy="163.23" r="2.1"/><circle cx="523.05" cy="163.16" r="2.1"/><circle cx="523.7" cy="163.21" r="2.1"/><circle cx="524.58" cy="163.02" r="2.1"/><circle cx="525.24" cy="162.77" r="2.1"/><circle cx="525.99" cy="162.98" r="2.1"/><circle cx="526.75" cy="163.07" r="2.1"/><circle cx="527.31" cy="162.77" r="2.1"/><circle cx="528.32" cy="162.81" r="2.1"/><circle cx="528.89" cy="162.92" r="2.1"/><circle cx="529.57" cy="163.12" r="2.1"/><circle cx="530.59" cy="162.88" r="2.1"/><circle cx="531.21" cy="162.9" r="2.1"/><circle cx="531.92" cy="162.95" r="2.1"/><circle cx="532.52" cy="162.83" r="2.1"/><circle cx="533.28" cy="163.2" r="2.1"/><circle cx="534.15" cy="162.86" r="2.1"/><circle cx="535.06" cy="163.25" r="2.1"/><circle cx="535.63" cy="162.82" r="2.1"/><circle cx="536.28" cy="162.8" r="2.1"/><circle cx="537.09" cy="162.8" r="2.1"/><circle cx="537.8" cy="162.88" r="2.1"/><circle cx="538.68" cy="163.19" r="2.1"/><circle cx="539.5" cy="162.96" r="2.1"/><circle cx="540.12" cy="163.01" r="2.1"/><circle cx="540.85" cy="162.92" r="2.1"/><circle cx="541.47" cy="162.89" r="2.1"/><circle cx="542.59" cy="162.81" r="2.1"/><circle cx="543.15" cy="163.06" r="2.1"/><circle cx="544.05" cy="162.86" r="2.1"/><circle cx="544.56" cy="162.87" r="2.1"/><circle cx="545.36" cy="162.97" r="2.1"/><circle cx="546.33" cy="163.17" r="2.1"/><circle cx="547.05" cy="162.76" r="2.1"/><circle cx="547.46" cy="163.1" r="2.1"/><circle cx="548.56" cy="162.99" r="2.1"/><circle cx="549.18" cy="162.75" r="2.1"/><circle cx="549.86" cy="163.21" r="2.1"/><circle cx="550.78" cy="163.18" r="2.1"/><circle cx="551.59" cy="162.87" r="2.1"/><circle cx="551.99" cy="162.83" r="2.1"/><circle cx="552.91" cy="163.09" r="2.1"/><circle cx="553.83" cy="163.11" r="2.1"/><circle cx="554.46" cy="163.13" r="2.1"/><circle cx="555.13" cy="163.03" r="2.1"/><circle cx="555.72" cy="163.14" r="2.1"/><circle cx="556.54" cy="163.21" r="2.1"/><circle cx="557.46" cy="162.9" r="2.1"/><circle cx="558" cy="162.88" r="2.1"/><circle cx="558.95" cy="163.1" r="2.1"/><circle cx="559.49" cy="162.79" r="2.1"/><circle cx="560.41" cy="163.04" r="2.1"/><circle cx="561.11" cy="162.86" r="2.1"/><circle cx="561.94" cy="162.76" r="2.1"/><circle cx="562.57" cy="162.98" r="2.1"/><circle cx="563.58" cy="163.07" r="2.1"/><circle cx="564.3" cy="162.99" r="2.1"/><circle cx="564.79" cy="162.87" r="2.1"/><circle cx="565.83" cy="163.1" r="2.1"/><circle cx="566.32" cy="162.76" r="2.1"/><circle cx="567.15" cy="163.09" r="2.1"/><circle cx="567.87" cy="162.88" r="2.1"/><circle cx="568.72" cy="163.21" r="2.1"/><circle cx="569.29" cy="162.77" r="2.1"/><circle cx="570.09" cy="162.96" r="2.1"/><circle cx="570.97" cy="162.85" r="2.1"/><circle cx="571.77" cy="163.12" r="2.1"/><circle cx="572.4" cy="162.85" r="2.1"/><circle cx="573.34" cy="162.91" r="2.1"/><circle cx="574.03" cy="162.87" r="2.1"/><circle cx="574.54" cy="163.13" r="2.1"/><circle cx="575.32" cy="163.23" r="2.1"/><circle cx="576.15" cy="162.84" r="2.1"/><circle cx="576.79" cy="162.96" r="2.1"/><circle cx="577.72" cy="163.22" r="2.1"/><circle cx="578.26" cy="162.95" r="2.1"/><circle cx="579.04" cy="163.24" r="2.1"/><circle cx="579.76" cy="162.78" r="2.1"/><circle cx="580.47" cy="162.95" r="2.1"/><circle cx="581.56" cy="163.19" r="2.1"/><circle cx="582.24" cy="163.25" r="2.1"/></g>
<g font-family='"Liberation Sans", sans-serif' fill="#000">
<g class="T"><g transform="translate(421.3,191.1) scale(1,1.06) translate(-421.3,-191.1)"><text x="421.3" y="191.1" font-size="20" text-anchor="middle" font-weight="normal" >-20</text></g></g>
<g class="T"><g transform="translate(539.9,191.1) scale(1,1.06) translate(-539.9,-191.1)"><text x="539.9" y="191.1" font-size="20" text-anchor="middle" font-weight="normal" >20</text></g></g>
<g class="T"><g transform="translate(473.8,231.3) scale(1,1.06) translate(-473.8,-231.3)"><text x="473.8" y="231.3" font-size="20" text-anchor="end" font-weight="normal" >-20</text></g></g>
<g class="T"><g transform="translate(473.2,112.7) scale(1,1.06) translate(-473.2,-112.7)"><text x="473.2" y="112.7" font-size="20" text-anchor="end" font-weight="normal" >20</text></g></g>
<g class="T"><g transform="translate(484.8,47.7) scale(1,1.06) translate(-484.8,-47.7)"><text x="484.8" y="47.7" font-size="22" text-anchor="start" font-weight="normal" >90°</text></g></g>
<g class="T"><g transform="translate(382.2,54) scale(1,1.06) translate(-382.2,-54)"><text x="382.2" y="54" font-size="22" text-anchor="start" font-weight="normal" > 20°</text><path d="M763,0L583,0L583,1147Q518,1085 412,1023Q307,961 223,930L223,1104Q374,1175 484,1273Q595,1372 648,1466L763,1466Z" transform="translate(382.2,54) scale(0.010742,-0.010134)" fill="#000" stroke="#000" stroke-width="18.6" class="g1"/></g></g>
<g class="T"><g transform="translate(356.8,166) scale(1,1.06) translate(-356.8,-166)"><text x="356.8" y="166" font-size="22" text-anchor="start" font-weight="normal" > 80°</text><path d="M763,0L583,0L583,1147Q518,1085 412,1023Q307,961 223,930L223,1104Q374,1175 484,1273Q595,1372 648,1466L763,1466Z" transform="translate(356.8,166) scale(0.010742,-0.010134)" fill="#000" stroke="#000" stroke-width="18.6" class="g1"/></g></g>
<g class="T"><g transform="translate(605.3,166.8) scale(1,1.06) translate(-605.3,-166.8)"><text x="605.3" y="166.8" font-size="22.5" text-anchor="start" font-weight="normal" >0 (360°)</text></g></g>
<g class="T"><g transform="translate(484.5,297.4) scale(1,1.06) translate(-484.5,-297.4)"><text x="484.5" y="297.4" font-size="22" text-anchor="start" font-weight="normal" >270°</text></g></g>
<g class="T"><g transform="translate(568.5,260.3) scale(1,1.06) translate(-568.5,-260.3)"><text x="568.5" y="260.3" font-size="22.5" text-anchor="start" font-weight="normal" >Unit: µm</text></g></g>
<g class="T"><g transform="translate(487.5,18.7) scale(1,1.06) translate(-487.5,-18.7)"><text x="487.5" y="18.7" font-size="22" text-anchor="middle" font-weight="bold" >(b) Runout angle of test # </text><path d="M809,0L528,0L528,1056Q374,912 165,844L165,1098Q275,1134 404,1234Q533,1334 581,1466L809,1466Z" transform="translate(613.98,18.7) scale(0.010742,-0.010134)" fill="#000" stroke="#000" stroke-width="18.6" class="g1"/></g></g>
</g>
<path d="M434.07,489.75A40.83,40.15 0 0 0 437.41,505.66M442.5,514.19A40.83,40.15 0 0 0 455.01,524.81M464.33,528.53A40.83,40.15 0 0 0 480.83,529.47M490.53,526.84A40.83,40.15 0 0 0 504.2,517.72M510.26,509.83A40.83,40.15 0 0 0 515.46,494.4M515.38,484.51A40.83,40.15 0 0 0 509.96,469.16M503.77,461.36A40.83,40.15 0 0 0 489.97,452.43M480.23,449.94A40.83,40.15 0 0 0 463.75,451.13M454.48,454.98A40.83,40.15 0 0 0 442.14,465.78M437.17,474.39A40.83,40.15 0 0 0 434.07,489.75" fill="none" stroke="#000" stroke-width="1.3"/>
<path d="M556.57,489.33A81.67,80.3 0 0 0 554.79,473.09M552.08,463.51A81.67,80.3 0 0 0 545.09,448.7M539.39,440.49A81.67,80.3 0 0 0 527.92,428.68M519.84,422.7A81.67,80.3 0 0 0 505.12,415.15M495.51,412.05A81.67,80.3 0 0 0 479.1,409.56M468.99,409.66A81.67,80.3 0 0 0 452.63,412.49M443.1,415.79A81.67,80.3 0 0 0 428.53,423.65M420.58,429.79A81.67,80.3 0 0 0 409.37,441.83M403.85,450.16A81.67,80.3 0 0 0 397.17,465.11M394.67,474.74A81.67,80.3 0 0 0 393.24,491.02M394.03,500.93A81.67,80.3 0 0 0 398,516.78M401.99,525.92A81.67,80.3 0 0 0 410.94,539.68M417.7,547.06A81.67,80.3 0 0 0 430.68,557.26M439.5,562.11A81.67,80.3 0 0 0 455.12,567.66M465.06,569.47A81.67,80.3 0 0 0 481.67,569.77M491.67,568.34A81.67,80.3 0 0 0 507.5,563.38M516.5,558.85A81.67,80.3 0 0 0 529.86,549.15M536.9,542.02A81.67,80.3 0 0 0 546.37,528.6M550.71,519.62A81.67,80.3 0 0 0 555.28,503.92M556.45,494.05A81.67,80.3 0 0 0 556.57,489.75" fill="none" stroke="#000" stroke-width="1.3"/>
<path d="M352.4,489.75A122.5,120.45 0 0 0 353.53,506.06M355.34,515.96A122.5,120.45 0 0 0 360.05,531.64M364,540.92A122.5,120.45 0 0 0 372.07,555.22M377.99,563.43A122.5,120.45 0 0 0 389.03,575.65M396.62,582.4A122.5,120.45 0 0 0 410.1,591.97M419,596.93A122.5,120.45 0 0 0 434.28,603.38M444.06,606.32A122.5,120.45 0 0 0 460.4,609.35M470.6,610.13A122.5,120.45 0 0 0 487.22,609.59M497.35,608.16A122.5,120.45 0 0 0 513.45,604.08M523.02,600.52A122.5,120.45 0 0 0 537.83,593.09M546.38,587.57A122.5,120.45 0 0 0 559.2,577.15M566.32,569.92A122.5,120.45 0 0 0 576.52,557.01M581.87,548.44A122.5,120.45 0 0 0 588.97,533.66M592.3,524.14A122.5,120.45 0 0 0 595.96,508.19M597.1,498.19A122.5,120.45 0 0 0 597.14,481.85M596.04,471.84A122.5,120.45 0 0 0 592.46,455.88M589.17,446.35A122.5,120.45 0 0 0 582.14,431.53M576.83,422.94A122.5,120.45 0 0 0 566.69,409.98M559.59,402.73A122.5,120.45 0 0 0 546.83,392.25M538.3,386.69A122.5,120.45 0 0 0 523.53,379.2M513.97,375.59A122.5,120.45 0 0 0 497.89,371.44M487.77,369.97A122.5,120.45 0 0 0 471.15,369.36M460.95,370.08A122.5,120.45 0 0 0 444.6,373.04M434.8,375.94A122.5,120.45 0 0 0 419.49,382.33M410.57,387.25A122.5,120.45 0 0 0 397.04,396.76M389.42,403.47A122.5,120.45 0 0 0 378.33,415.65M372.37,423.83A122.5,120.45 0 0 0 364.24,438.09M360.24,447.35A122.5,120.45 0 0 0 355.46,463.01M353.6,472.9A122.5,120.45 0 0 0 352.4,489.21" fill="none" stroke="#000" stroke-width="1.3"/>
<line x1="351.7" y1="489.75" x2="596.9" y2="489.75" stroke="#000" stroke-width="1.3" />
<line x1="474.9" y1="369.4" x2="474.9" y2="610.1" stroke="#000" stroke-width="1.3" />
<line x1="393.23" y1="489.75" x2="393.23" y2="486.25" stroke="#000" stroke-width="1.3" />
<line x1="474.9" y1="570.05" x2="478.4" y2="570.05" stroke="#000" stroke-width="1.3" />
<line x1="556.57" y1="489.75" x2="556.57" y2="486.25" stroke="#000" stroke-width="1.3" />
<line x1="474.9" y1="409.45" x2="478.4" y2="409.45" stroke="#000" stroke-width="1.3" />
<g fill="#ff0000"><circle cx="450.2" cy="390.1" r="2.8"/><circle cx="426" cy="395" r="2.8"/><circle cx="382.7" cy="432.9" r="2.8"/><circle cx="371.4" cy="471" r="2.8"/><circle cx="366.5" cy="475" r="2.8"/><circle cx="523.3" cy="393.7" r="2.8"/><circle cx="502.6" cy="401.6" r="2.8"/><circle cx="500" cy="419.9" r="2.8"/><circle cx="552.9" cy="420.3" r="2.8"/><circle cx="539.6" cy="428.8" r="2.8"/><circle cx="555.8" cy="443" r="2.8"/><circle cx="571.6" cy="447.9" r="2.8"/><circle cx="567.7" cy="461.1" r="2.8"/><circle cx="572" cy="471.6" r="2.8"/><circle cx="572.2" cy="476.5" r="2.8"/><circle cx="576.9" cy="484.8" r="2.8"/></g>
<g font-family='"Liberation Sans", sans-serif' fill="#000">
<g class="T"><g transform="translate(393,517.7) scale(1,1.06) translate(-393,-517.7)"><text x="393" y="517.7" font-size="20" text-anchor="middle" font-weight="normal" >-0.5</text></g></g>
<g class="T"><g transform="translate(556,517.9) scale(1,1.06) translate(-556,-517.9)"><text x="556" y="517.9" font-size="20" text-anchor="middle" font-weight="normal" >0.5</text></g></g>
<g class="T"><g transform="translate(467.3,578.4) scale(1,1.06) translate(-467.3,-578.4)"><text x="467.3" y="578.4" font-size="20" text-anchor="end" font-weight="normal" >-0.5</text></g></g>
<g class="T"><g transform="translate(467.8,418) scale(1,1.06) translate(-467.8,-418)"><text x="467.8" y="418" font-size="20" text-anchor="end" font-weight="normal" >0.5</text></g></g>
<g class="T"><g transform="translate(483.6,378.6) scale(1,1.06) translate(-483.6,-378.6)"><text x="483.6" y="378.6" font-size="22" text-anchor="start" font-weight="normal" >90°</text></g></g>
<g class="T"><g transform="translate(328,512.7) scale(1,1.06) translate(-328,-512.7)"><text x="328" y="512.7" font-size="22" text-anchor="start" font-weight="normal" > 80°</text><path d="M763,0L583,0L583,1147Q518,1085 412,1023Q307,961 223,930L223,1104Q374,1175 484,1273Q595,1372 648,1466L763,1466Z" transform="translate(328,512.7) scale(0.010742,-0.010134)" fill="#000" stroke="#000" stroke-width="18.6" class="g1"/></g></g>
<g class="T"><g transform="translate(602.4,482.7) scale(1,1.06) translate(-602.4,-482.7)"><text x="602.4" y="482.7" font-size="22.5" text-anchor="start" font-weight="normal" >0 (360°)</text></g></g>
<g class="T"><g transform="translate(482.9,619.9) scale(1,1.06) translate(-482.9,-619.9)"><text x="482.9" y="619.9" font-size="22" text-anchor="start" font-weight="normal" >270°</text></g></g>
<g class="T"><g transform="translate(563.8,587.4) scale(1,1.06) translate(-563.8,-587.4)"><text x="563.8" y="587.4" font-size="22.5" text-anchor="start" font-weight="normal" >Unit: µm</text></g></g>
<g class="T"><g transform="translate(502.8,354) scale(1,1.06) translate(-502.8,-354)"><text x="502.8" y="354" font-size="22" text-anchor="middle" font-weight="bold" >(d) Runout angle of test #2</text></g></g>
</g>
</svg></body></html>
